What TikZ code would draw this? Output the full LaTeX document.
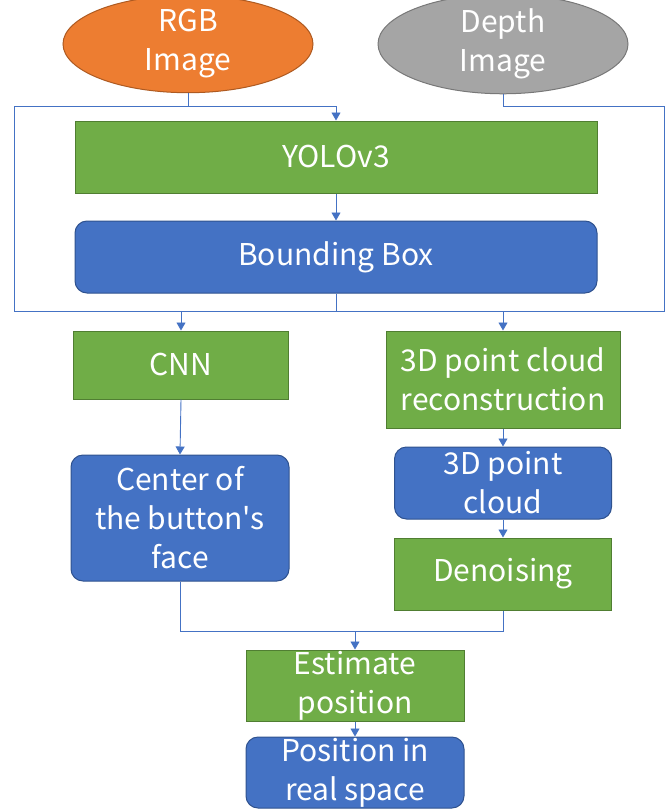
\documentclass[tikz,border=0pt]{standalone}
\usepackage{fontspec}
\setmainfont{Noto Sans CJK JP}
\usetikzlibrary{shapes.geometric,arrows.meta}
\definecolor{gfill}{HTML}{70AD47}
\definecolor{gline}{HTML}{507E32}
\definecolor{bfill}{HTML}{4472C4}
\definecolor{bline}{HTML}{2F528F}
\definecolor{ofill}{HTML}{ED7D31}
\definecolor{oline}{HTML}{AE5A21}
\definecolor{afill}{HTML}{A5A5A5}
\definecolor{aline}{HTML}{787878}
\definecolor{conncol}{HTML}{4472C4}
\tikzset{
  base/.style={inner sep=0pt, text=white, align=center, line width=1pt,
    font=\fontsize{30}{39}\selectfont},
  greenbox/.style={base, rectangle, fill=gfill, draw=gline},
  bluebox/.style={base, rectangle, rounded corners=12pt, fill=bfill, draw=bline},
  orangeell/.style={base, ellipse, fill=ofill, draw=oline},
  grayell/.style={base, ellipse, fill=afill, draw=aline},
  conn/.style={draw=conncol, line width=0.9pt},
  arr/.style={conn, -{Triangle[width=9pt,length=8pt]}},
}
\begin{document}
\begin{tikzpicture}[x=1pt,y=-1pt]
\useasboundingbox (0,0) rectangle (667,811);
\node[orangeell, minimum width=250pt, minimum height=86pt] (rgb) at (188,44) {RGB\\Image};
\node[grayell, minimum width=250pt, minimum height=86pt] (depth) at (503,44) {Depth\\Image};
\node[greenbox, minimum width=522pt, minimum height=72pt] (yolo) at (336,157) {YOLOv3};
\node[bluebox, minimum width=522pt, minimum height=72pt] (bb) at (336,257) {Bounding Box};
\node[greenbox, minimum width=215pt, minimum height=68pt] (cnn) at (181,365) {CNN};
\node[greenbox, minimum width=234pt, minimum height=97pt] (recon) at (503,379.5) {3D point cloud\\reconstruction};
\node[bluebox, minimum width=218pt, minimum height=126pt] (center) at (180,518) {Center of\\the button\textquotesingle s\\face};
\node[bluebox, minimum width=217pt, minimum height=72pt] (pc) at (503,483) {3D point\\cloud};
\node[greenbox, minimum width=217pt, minimum height=72pt] (den) at (503,574) {Denoising};
\node[greenbox, minimum width=218pt, minimum height=71pt] (est) at (355,685.5) {Estimate\\position};
\node[bluebox, minimum width=218pt, minimum height=71pt] (pos) at (355,772.5) {Position in\\real space};

\coordinate (lt) at (14,106);
\coordinate (lb) at (14,311);
\coordinate (rt) at (664,106);
\coordinate (rb) at (664,311);
\coordinate (split) at (336,311);
\coordinate (merge) at (355,631);

\draw[arr] (rgb.south) |- (yolo.north |- lt) -- (yolo.north);
\draw[conn] (rgb.south) |- (lt) -- (lb) -- (split);
\draw[arr] (bb.south) -- (split) -| (cnn.north);
\draw[arr] (split) -| (recon.north);
\draw[conn] (depth.south) |- (rt) -- (rb) -- (recon.north |- rb);
\draw[arr] (yolo.south) -- (bb.north);
\draw[arr] (cnn.south) -- (center.north);
\draw[arr] (recon.south) -- (pc.north);
\draw[arr] (pc.south) -- (den.north);
\draw[conn] (center.south) |- (merge);
\draw[conn] (den.south) |- (merge);
\draw[arr] (merge) -- (est.north);
\draw[arr] (est.south) -- (pos.north);
\end{tikzpicture}
\end{document}
